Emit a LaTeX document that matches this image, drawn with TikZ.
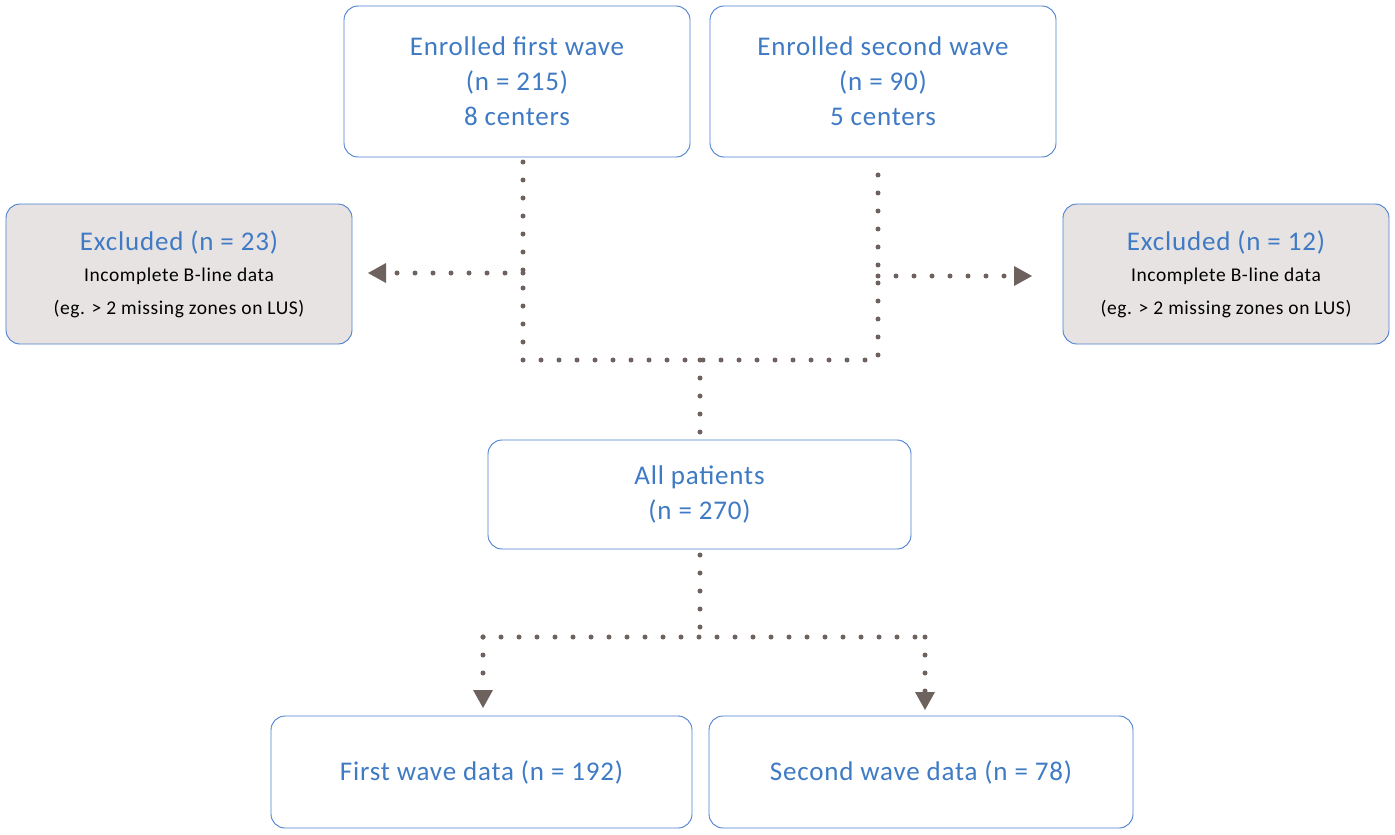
\documentclass[tikz,border=0pt]{standalone}
\usepackage{fontspec}
\setmainfont{Carlito}[LetterSpace=3]
\usetikzlibrary{arrows.meta}
\definecolor{tb}{HTML}{3F7AC4}
\definecolor{bd}{HTML}{4A7FD0}
\definecolor{dt}{HTML}{6E625F}
\definecolor{gf}{HTML}{E8E3E3}
\newcommand{\smalltx}{\color{black}\fontsize{19.5bp}{28bp}\selectfont}
\begin{document}
\begin{tikzpicture}[x=1bp,y=-1bp,
 box/.style={draw=bd,line width=0.9bp,rounded corners=14bp,fill=white,text=tb,align=center,font=\fontsize{27bp}{35bp}\selectfont,inner sep=0},
 ex/.style={box,fill=gf},
 dots/.style={draw=dt,line width=5bp,line cap=round,dash pattern=on 0bp off 18bp},
 arr/.style={dots,-{Triangle[length=18bp,width=20bp,fill=dt,line width=0bp,sep=0bp]}}]
\useasboundingbox (0,0) rectangle (1395,834);
\node[box,minimum width=346bp,minimum height=151bp] (e1) at (517,81.5) {Enrolled first wave\\(n = 215)\\8 centers};
\node[box,minimum width=346bp,minimum height=151bp] (e2) at (883,81.5) {Enrolled second wave\\(n = 90)\\5 centers};
\node[ex,minimum width=346bp,minimum height=140bp] (x1) at (179,274) {Excluded (n = 23)\\[-4bp]{\smalltx Incomplete B-line data}\\[-2bp]{\smalltx (eg. > 2 missing zones on LUS)}};
\node[ex,minimum width=326bp,minimum height=140bp] (x2) at (1226,274) {Excluded (n = 12)\\[-4bp]{\smalltx Incomplete B-line data}\\[-2bp]{\smalltx (eg. > 2 missing zones on LUS)}};
\node[box,minimum width=423bp,minimum height=109bp] (all) at (699.5,494.5) {All patients\\(n = 270)};
\node[box,minimum width=421bp,minimum height=112bp] (f1) at (481.5,772) {First wave data (n = 192)};
\node[box,minimum width=424bp,minimum height=112bp] (f2) at (921,772) {Second wave data (n = 78)};
\coordinate (a1) at (523,162); \coordinate (b1) at (523,360);
\coordinate (a2) at (878,162); \coordinate (b2) at (878,360);
\coordinate (c) at (700,360);
\coordinate (d) at (700,555); \coordinate (e) at (700,637);
\coordinate (l) at (483,637); \coordinate (r) at (925,637);
\draw[dots] (a1) -- (b1) -- (b2) -- (a2);
\draw[arr] (523,273) -- (368,273);
\draw[arr] (878,276) -- (1032,276);
\draw[dots] (c) -- (700,437);
\draw[dots] (d) -- (e);
\draw[dots] (l) -- (r);
\draw[arr] (l) -- (483,708);
\draw[arr] (r) -- (925,710);
\end{tikzpicture}
\end{document}
